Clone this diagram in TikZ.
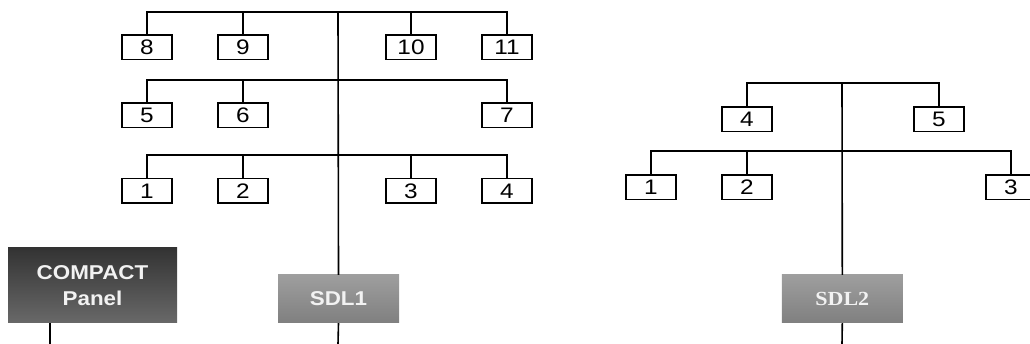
\documentclass[tikz,border=0pt]{standalone}
\usepackage{fontspec}
\newfontfamily\numfont[FakeStretch=1.16]{Liberation Sans}
\newfontfamily\lblfont[FakeStretch=1.12]{Liberation Sans}
\newfontfamily\serlbl[FakeStretch=1.1]{Liberation Serif}
\begin{document}
\begin{tikzpicture}[x=1pt,y=-1pt,
  wire/.style={line width=1.6pt,black},
  numbox/.style={draw=black,line width=1.5pt,fill=white,minimum width=50pt,minimum height=24.5pt,inner sep=0pt,
    font=\numfont\fontsize{21}{24}\selectfont},
  graybox/.style={minimum width=121pt,minimum height=48pt,inner sep=0pt,top color=black!38,bottom color=black!50,
    text=white!95!black},
  darkbox/.style={minimum width=169pt,minimum height=75pt,inner sep=0pt,top color=black!80,bottom color=black!59,
    text=white!95!black,align=center}]
\useasboundingbox (0,0) rectangle (1030,344);
% ---------- tree 1 ----------
\coordinate (t1a) at (338,12);
\coordinate (t1b) at (338,80);
\coordinate (t1c) at (338,155);
\coordinate (t1end) at (338,344);
\node[numbox] (a8) at (147,47.5) {8};
\node[numbox] (a9) at (243,47.5) {9};
\node[numbox] (a10) at (411,47.5) {10};
\node[numbox] (a11) at (507,47.5) {11};
\node[numbox] (a5) at (147,115.5) {5};
\node[numbox] (a6) at (243,115.5) {6};
\node[numbox] (a7) at (507,115.5) {7};
\node[numbox] (a1) at (147,191) {1};
\node[numbox] (a2) at (243,191) {2};
\node[numbox] (a3) at (411,191) {3};
\node[numbox] (a4) at (507,191) {4};
\node[graybox,font=\lblfont\bfseries\fontsize{20}{24}\selectfont] (sdl1) at (338.5,299) {SDL1};
\node[darkbox,font=\lblfont\bfseries\fontsize{20}{26}\selectfont] (compact) at (92.5,285.5) {COMPACT\\Panel};
\coordinate (cpend) at (50,344);
\draw[wire] (a8.north) |- (t1a) -| (a11.north);
\draw[wire] (a9.north) |- (t1a);
\draw[wire] (a10.north) |- (t1a);
\draw[wire] (a5.north) |- (t1b) -| (a7.north);
\draw[wire] (a6.north) |- (t1b);
\draw[wire] (a1.north) |- (t1c) -| (a4.north);
\draw[wire] (a2.north) |- (t1c);
\draw[wire] (a3.north) |- (t1c);
\draw[wire] (t1a) -- (sdl1.north);
\draw[wire] (sdl1.south) -- (t1end);
\draw[wire] (cpend |- compact.south) -- (cpend);
% ---------- tree 2 ----------
\coordinate (t2a) at (842,83);
\coordinate (t2b) at (842,151);
\coordinate (t2end) at (842,344);
\node[numbox] (b4) at (747,119.5) {4};
\node[numbox] (b5) at (939,119.5) {5};
\node[numbox] (b1) at (651,187.5) {1};
\node[numbox] (b2) at (747,187.5) {2};
\node[numbox] (b3) at (1011,187.5) {3};
\node[graybox,font=\serlbl\bfseries\fontsize{20}{24}\selectfont] (sdl2) at (842.3,299) {SDL2};
\draw[wire] (b4.north) |- (t2a) -| (b5.north);
\draw[wire] (b1.north) |- (t2b) -| (b3.north);
\draw[wire] (b2.north) |- (t2b);
\draw[wire] (t2a) -- (sdl2.north);
\draw[wire] (sdl2.south) -- (t2end);
\end{tikzpicture}
\end{document}
